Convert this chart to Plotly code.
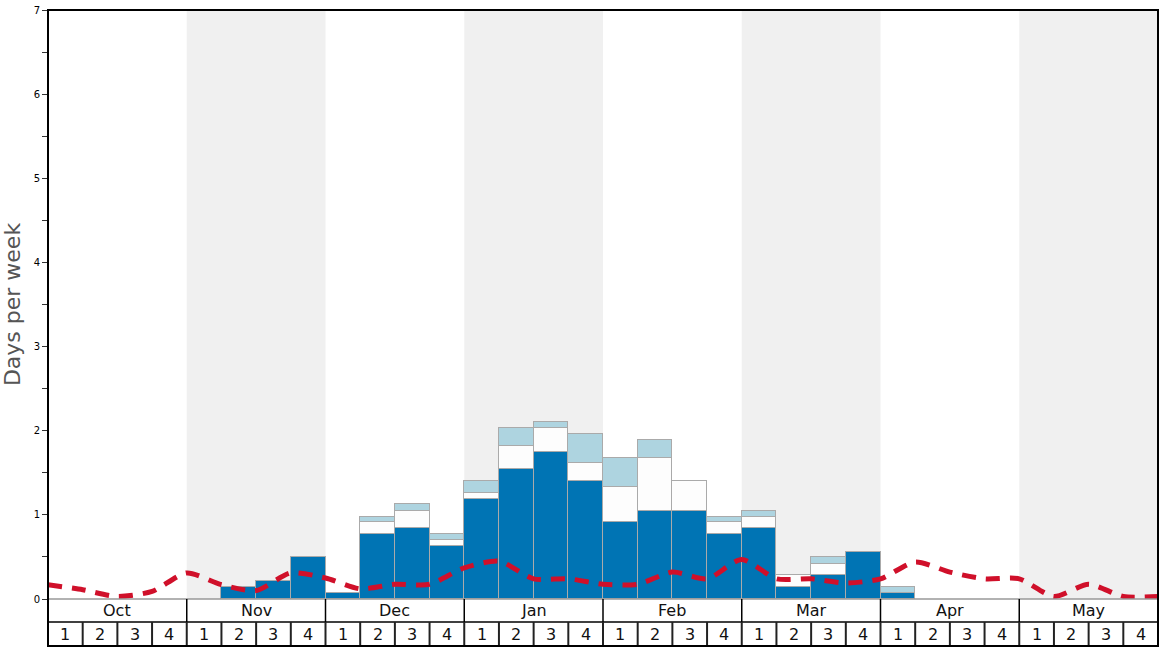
import plotly.graph_objects as go

months = ["Oct", "Nov", "Dec", "Jan", "Feb", "Mar", "Apr", "May"]
week_labels = ["1", "2", "3", "4"]

# per-week values (32 weeks, Oct wk1 .. May wk4)
dark = [0, 0, 0, 0,
        0, 0.14, 0.21, 0.50,
        0.07, 0.77, 0.84, 0.63,
        1.19, 1.54, 1.75, 1.40,
        0.91, 1.05, 1.05, 0.77,
        0.84, 0.14, 0.28, 0.56,
        0.07, 0, 0, 0,
        0, 0, 0, 0]
white = [0, 0, 0, 0,
         0, 0, 0, 0,
         0, 0.14, 0.21, 0.07,
         0.07, 0.28, 0.28, 0.22,
         0.42, 0.63, 0.35, 0.14,
         0.14, 0.14, 0.14, 0,
         0, 0, 0, 0,
         0, 0, 0, 0]
light = [0, 0, 0, 0,
         0, 0, 0, 0,
         0, 0.07, 0.075, 0.07,
         0.14, 0.21, 0.07, 0.34,
         0.35, 0.21, 0, 0.07,
         0.07, 0, 0.08, 0,
         0.07, 0, 0, 0,
         0, 0, 0, 0]
# average line values at week boundaries (33 points)
avg = [0.17, 0.11, 0.03, 0.09,
       0.31, 0.17, 0.10, 0.31,
       0.25, 0.12, 0.175, 0.175,
       0.37, 0.45, 0.24, 0.24,
       0.175, 0.175, 0.32, 0.24,
       0.47, 0.24, 0.24, 0.19,
       0.24, 0.44, 0.32, 0.24,
       0.24, 0.03, 0.175, 0.03,
       0.03]

n = len(dark)
xc = [i + 0.5 for i in range(n)]
nz = lambda arr: [v if v > 0 else None for v in arr]

fig = go.Figure()
line_style = dict(color="#aaaaaa", width=1.5)
fig.add_trace(go.Bar(x=xc, y=nz(dark), width=1, marker=dict(color="#0074b4", line=line_style), showlegend=False))
fig.add_trace(go.Bar(x=xc, y=nz(white), width=1, marker=dict(color="#fdfdfd", line=line_style), showlegend=False))
fig.add_trace(go.Bar(x=xc, y=nz(light), width=1, marker=dict(color="#aed4e0", line=line_style), showlegend=False))
fig.add_trace(go.Scatter(x=list(range(len(avg))), y=avg, mode="lines",
                         line=dict(color="#d0102a", width=5, dash="14px,10px", shape="spline", smoothing=0.7),
                         showlegend=False, cliponaxis=False))

shapes = []
# month bands
for m in range(len(months)):
    if m % 2 == 1:
        shapes.append(dict(type="rect", xref="x", yref="paper", x0=4*m, x1=4*m+4, y0=0, y1=1,
                           fillcolor="#f0f0f0", line=dict(width=0), layer="below"))

row1 = -23/589
row2 = -47/589
# horizontal lines below plot
shapes.append(dict(type="line", xref="paper", yref="paper", x0=0, x1=1, y0=0, y1=0, line=dict(color="#999999", width=1.5)))
shapes.append(dict(type="line", xref="paper", yref="paper", x0=0, x1=1, y0=row1, y1=row1, line=dict(color="#000000", width=1.5)))
# month separators
for m in range(1, len(months)):
    shapes.append(dict(type="line", xref="x", yref="paper", x0=4*m, x1=4*m, y0=0, y1=row1, line=dict(color="#000000", width=1.5)))
# week separators
for w in range(1, n):
    shapes.append(dict(type="line", xref="x", yref="paper", x0=w, x1=w, y0=row1, y1=row2, line=dict(color="#222222", width=2)))
# outer frame
shapes.append(dict(type="rect", xref="paper", yref="paper", x0=0, x1=1, y0=row2, y1=1, line=dict(color="#000000", width=2)))

annotations = []
for m, name in enumerate(months):
    annotations.append(dict(x=4*m+2, y=(row1)/2, xref="x", yref="paper", text=name, showarrow=False,
                            font=dict(size=16, color="#111111"), yanchor="middle"))
    for k, wl in enumerate(week_labels):
        annotations.append(dict(x=4*m+k+0.5, y=(row1+row2)/2, xref="x", yref="paper", text=wl, showarrow=False,
                                font=dict(size=16, color="#111111"), yanchor="middle"))

fig.update_layout(
    width=1168, height=648,
    margin=dict(l=48, r=10, t=10, b=49, autoexpand=False),
    barmode="stack", bargap=0,
    plot_bgcolor="white", paper_bgcolor="white",
    font=dict(family="DejaVu Sans", color="#000000"),
    shapes=shapes, annotations=annotations,
    xaxis=dict(range=[0, 32], showticklabels=False, showgrid=False, zeroline=False, ticks="", automargin=False),
    yaxis=dict(range=[0, 7], tickvals=[0, 1, 2, 3, 4, 5, 6, 7], ticks="outside", ticklen=5, tickwidth=1,
               tickcolor="#333333", tickfont=dict(size=10, color="#000000"), showgrid=False, zeroline=False,
               showline=False, automargin=False,
               minor=dict(tickvals=[0.5, 1.5, 2.5, 3.5, 4.5, 5.5, 6.5], ticks="outside", ticklen=5, tickcolor="#333333"),
               title=dict(text="Days per week", font=dict(size=22, color="#555555"), standoff=14)),
)

fig.write_html("out.html", config={"displayModeBar": False},
               post_script="document.body.style.margin='0';document.body.style.overflow='hidden';")
